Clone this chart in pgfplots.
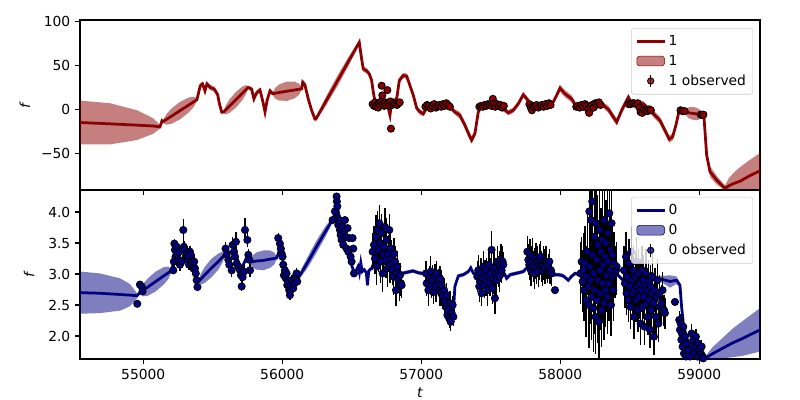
\documentclass[border=0pt]{standalone}
\usepackage{fontspec}
\setmainfont{DejaVu Sans}
\usepackage{pgfplots}
\pgfplotsset{compat=1.18}
\usepackage{pgfplotstable}
\definecolor{dred}{RGB}{139,0,0}
\definecolor{navyc}{RGB}{0,0,128}

\pgfplotstableread{
t f w
54545 -15 25
54761 -16.5 23.5
54955 -18 17
55070 -19 9
55100 -19.5 5
55120 -20 2
55135 -13 1.5
55142 -14 1.5
55166 -11.5 6
55203 -7.75 8.7
55264 -1.5 10
55325 4.75 8.7
55362 8.5 6
55386 11 1.5
55410 27 3
55427 29 3
55444 21 3
55458 29 3
55482 25 3
55511 23 3
55535 17 3
55547 7 3
55564 -3 3
55578 -3 1.5
55596 -0.2 5.4
55622 4 7.8
55667 11 9
55711 18 7.8
55737 22.2 5.4
55755 25 1.5
55780 23 3
55796 12 3
55816 19 3
55840 22 3
55859 10 3
55876 -3 3
55892 11 3
55912 21 3
55931 18 1.5
55952 18.5 6.6
55983 19.4 9.5
56036 20.8 11
56088 22.1 9.5
56119 23 6.6
56140 23.5 1.5
56147 31 3
56163 28 3
56187 12 3
56211 -1 3
56235 -11 3
56242 -11 1.5
56273 -2.3 3.6
56320 10.9 5.2
56398 32.75 6
56476 54.6 5.2
56523 67.75 3.6
56554 76.5 1.5
56571 57.6 3
56583 46 3
56607 44 3
56626 40.5 3
56643 33 3
56655 19.7 3
56667 9 3
56703 7.5 3
56739 9 3
56760 3 3
56775 -6.8 3
56787 8 3
56823 11.7 3
56842 33 3
56870 38.6 3
56895 38 3
56919 27 3
56943 16 3
56967 1.5 3
56991 -3 3
57015 -5 3
57034 0.4 3
57063 5.3 3
57135 3.8 3
57207 2.7 3
57242 -3 3
57278 -6.8 4
57314 -18 4
57345 -29.5 4
57362 -35 4
57386 -27.7 4
57410 -3 3
57434 3.8 3
57506 6.4 3
57530 9 3
57590 0.8 3
57626 -3.8 3
57662 -1 3
57698 6.4 3
57734 16.7 3
57770 10 3
57782 6.4 3
57806 0.8 3
57854 3.8 3
57938 5 3
57974 16 3
57998 24.2 4
58034 17.8 4
58082 12 4
58118 2.6 3
58178 4.5 3
58238 0.8 3
58298 6.4 3
58346 0 4
58382 -8.7 4
58406 -14.4 4
58442 -1 4
58490 14 3
58514 6.4 3
58597 6.4 3
58645 -1 3
58681 -6.8 4
58717 -12.5 4
58753 -24 4
58784 -34 4
58808 -31.5 4
58832 -18 4
58856 -1 3
58885 -2 3
58897 -3 1.5
58910 -3.4 4.5
58929 -4 6.5
58960 -4.7 7.5
58992 -5.5 6.5
59011 -6 4.5
59024 -6.4 1.5
59034 -9 3
59053 -52 5
59077 -71 6
59125 -80.7 5
59185 -90 3
59215 -87 9
59257 -84 13
59293 -82 16
59360 -76 18
59437 -70 20
}\topline

\pgfplotstableread{
t f e
56650 6 2
56660 4 2
56668 8 2
56675 3 2
56683 5 2
56690 2 2
56697 7 2
56705 5 2
56712 9 2
56715 27 2
56720 16 2
56725 6 2
56733 4 2
56740 8 2
56748 5 2
56756 22 2
56762 7 2
56770 4 2
56778 9 2
56782 -22 2
56790 5 2
56800 7 2
56812 6 2
56825 5 2
56838 7 2
56845 8 2
57030 3 2
57042 5 2
57055 4 2
57068 1 2
57080 4 2
57093 6 2
57105 2 2
57118 4 2
57130 5 2
57143 3 2
57156 6 2
57168 4 2
57180 7 2
57193 5 2
57206 3 2
57418 3 2
57430 4 2
57443 3 2
57455 5 2
57468 4 2
57480 6 2
57493 5 2
57505 4 2
57515 12 2
57520 6 2
57532 3 2
57545 6 2
57558 4 2
57570 5 2
57582 2 2
57594 4 2
57778 6 2
57788 2 2
57796 -1 2
57806 3 2
57818 4 2
57830 5 2
57842 2 2
57855 4 2
57867 5 2
57880 3 2
57893 6 2
57906 4 2
57918 7 2
57930 5 2
58115 3 2
58127 4 2
58140 2 2
58152 5 2
58165 3 2
58178 6 2
58190 4 2
58200 0 2
58208 -4 2
58215 3 2
58228 5 2
58240 2 2
58252 7 2
58265 6 2
58278 8 2
58290 5 2
58492 6 2
58505 6 2
58518 7 2
58532 7 2
58545 6 2
58558 7 2
58570 2 2
58578 -3 2
58590 -4 2
58602 0 2
58615 -1 2
58628 -2 2
58640 0 2
58652 -1 2
58865 -1 2
58880 -2 2
58895 -2 2
59010 -6 2
59022 -6.5 2
59030 -6 2
}\topobs

\pgfplotstableread{
t f w
54545 2.70 0.34
54689 2.69 0.32
54833 2.67 0.26
54904 2.66 0.18
54930 2.655 0.11
54955 2.65 0.04
54976 2.70 0.02
54999 2.74 0.10
55033 2.79 0.14
55090 2.88 0.16
55147 2.97 0.14
55181 3.02 0.10
55204 3.06 0.02
55230 3.30 0.03
55270 3.40 0.03
55310 3.32 0.03
55350 3.18 0.03
55380 2.95 0.03
55396 2.88 0.02
55415 2.92 0.09
55444 2.99 0.13
55492 3.10 0.15
55540 3.20 0.13
55569 3.27 0.09
55588 3.31 0.02
55620 3.35 0.03
55660 3.38 0.03
55700 3.05 0.03
55740 3.25 0.03
55768 3.19 0.02
55787 3.20 0.10
55816 3.21 0.14
55864 3.22 0.16
55912 3.24 0.14
55941 3.25 0.10
55960 3.26 0.02
55985 3.42 0.03
56010 3.15 0.03
56040 2.85 0.03
56060 2.72 0.03
56090 2.85 0.03
56115 2.93 0.02
56140 3.03 0.06
56178 3.17 0.087
56241 3.42 0.10
56304 3.66 0.087
56342 3.80 0.06
56367 3.90 0.02
56395 4.10 0.03
56430 3.70 0.03
56460 3.40 0.03
56490 3.20 0.03
56515 3.04 0.03
56530 3.05 0.03
56545 3.12 0.03
56555 3.02 0.03
56565 3.18 0.03
56575 3.04 0.03
56590 3.07 0.03
56605 3.02 0.03
56613 2.82 0.03
56622 3.05 0.03
56645 3.10 0.03
56700 3.40 0.03
56760 3.40 0.03
56820 3.05 0.03
56860 3.01 0.03
56900 3.03 0.03
56940 3.05 0.03
56980 3.02 0.03
57034 3.00 0.03
57100 2.85 0.03
57150 2.70 0.03
57200 2.45 0.03
57230 2.35 0.03
57242 2.80 0.03
57267 2.97 0.03
57303 2.99 0.03
57339 3.04 0.03
57356 3.10 0.03
57375 3.01 0.03
57400 3.00 0.03
57450 3.00 0.03
57500 3.05 0.03
57560 3.10 0.03
57600 3.00 0.03
57614 2.93 0.03
57640 2.99 0.03
57680 3.01 0.03
57734 3.04 0.03
57760 3.10 0.03
57850 3.18 0.03
57930 3.08 0.03
57950 2.99 0.03
57990 2.99 0.03
58022 2.97 0.03
58058 2.90 0.03
58080 2.96 0.03
58106 3.01 0.03
58142 2.99 0.03
58250 2.95 0.03
58350 3.00 0.03
58406 3.01 0.03
58429 2.95 0.03
58453 2.90 0.03
58550 2.88 0.03
58650 2.90 0.03
58693 2.93 0.03
58741 2.91 0.06
58790 2.88 0.10
58837 2.90 0.06
58861 2.82 0.03
58873 2.47 0.03
58885 2.21 0.03
58910 1.96 0.03
58934 1.85 0.03
58958 1.90 0.03
58994 1.75 0.03
59029 1.64 0.02
59041 1.64 0.02
59070 1.68 0.07
59100 1.72 0.11
59149 1.78 0.15
59240 1.89 0.23
59310 1.96 0.28
59437 2.10 0.35
}\botline

\pgfplotstableread{
t f e
54957 2.52 0.05
54976 2.83 0.05
54988 2.80 0.05
54995 2.72 0.05
55216 3.06 0.06
55220 3.20 0.08
55224 3.49 0.08
55228 3.39 0.10
55232 3.28 0.08
55240 3.44 0.10
55244 3.31 0.08
55252 3.23 0.10
55260 3.36 0.10
55264 3.15 0.10
55276 3.20 0.08
55288 3.71 0.17
55292 3.44 0.10
55300 3.39 0.10
55306 3.28 0.08
55312 3.33 0.10
55318 3.23 0.08
55324 3.28 0.10
55330 3.15 0.08
55336 3.36 0.10
55342 3.31 0.10
55348 3.20 0.08
55354 3.15 0.08
55360 3.09 0.08
55366 3.20 0.10
55372 3.09 0.10
55378 3.01 0.08
55384 2.90 0.06
55390 2.79 0.06
55592 3.41 0.10
55600 3.31 0.10
55612 3.23 0.10
55619 3.15 0.10
55636 3.06 0.10
55643 3.47 0.12
55653 3.36 0.10
55660 3.28 0.10
55667 3.52 0.15
55672 3.17 0.10
55684 3.12 0.10
55696 3.06 0.10
55703 2.98 0.10
55708 2.80 0.08
55715 2.95 0.10
55725 3.04 0.10
55732 3.71 0.20
55749 3.55 0.12
55756 3.31 0.10
55763 3.23 0.10
55768 3.06 0.10
55971 3.58 0.08
55983 3.49 0.08
55990 3.41 0.08
55995 3.33 0.08
56002 3.28 0.08
56007 3.15 0.08
56012 2.98 0.08
56019 3.06 0.08
56026 2.93 0.08
56031 3.01 0.08
56036 2.82 0.08
56043 2.88 0.08
56050 2.74 0.08
56055 2.66 0.08
56060 2.82 0.08
56067 2.90 0.08
56079 2.77 0.08
56086 2.85 0.08
56094 2.95 0.08
56103 3.01 0.08
56108 2.88 0.08
56362 3.87 0.05
56379 4.01 0.05
56391 4.25 0.05
56393 4.17 0.05
56396 4.09 0.05
56398 3.90 0.05
56403 3.79 0.05
56410 3.87 0.05
56415 3.71 0.05
56420 3.63 0.05
56427 3.55 0.05
56434 3.76 0.05
56439 3.47 0.05
56444 3.68 0.05
56451 3.87 0.05
56456 3.60 0.05
56463 3.41 0.05
56470 3.74 0.05
56475 3.36 0.05
56482 3.58 0.05
56492 3.28 0.05
56499 3.20 0.05
56506 3.58 0.05
56511 3.41 0.05
56516 3.01 0.05
56650 3.36 0.30
56660 3.47 0.30
56667 3.25 0.25
56674 3.60 0.35
56679 3.12 0.30
56686 3.71 0.30
56694 3.39 0.35
56698 3.82 0.30
56703 3.50 0.30
56708 3.20 0.35
56715 3.66 0.30
56722 3.01 0.30
56727 3.31 0.25
56732 3.44 0.30
56739 3.76 0.30
56746 3.23 0.30
56751 3.55 0.35
56756 3.09 0.30
56763 3.33 0.30
56770 3.71 0.25
56775 3.15 0.30
56780 3.41 0.30
56787 3.25 0.30
56794 3.07 0.25
56799 2.96 0.30
56804 3.33 0.25
56811 3.20 0.25
56818 2.74 0.25
56823 3.01 0.20
56828 3.12 0.25
56835 2.90 0.20
56842 2.82 0.25
56847 2.98 0.20
56854 2.85 0.20
56859 2.82 0.20
57034 3.01 0.20
57039 2.85 0.20
57051 2.74 0.25
57058 2.93 0.20
57068 3.04 0.25
57075 2.82 0.20
57082 2.90 0.25
57087 2.71 0.20
57099 2.96 0.20
57106 2.80 0.25
57111 3.01 0.20
57123 2.88 0.20
57130 2.74 0.25
57135 2.93 0.20
57142 2.69 0.20
57147 2.82 0.25
57154 2.64 0.20
57164 2.74 0.20
57171 2.55 0.20
57178 2.47 0.20
57183 2.66 0.20
57188 2.34 0.15
57195 2.42 0.20
57202 2.28 0.15
57207 2.53 0.20
57212 2.23 0.15
57219 2.37 0.15
57226 2.50 0.15
57231 2.31 0.15
57403 2.96 0.25
57410 3.06 0.25
57417 2.80 0.25
57422 2.88 0.20
57429 3.01 0.25
57434 2.69 0.20
57441 2.93 0.25
57446 3.12 0.25
57453 2.82 0.20
57458 2.98 0.25
57465 2.90 0.25
57470 3.06 0.20
57475 2.74 0.25
57482 2.96 0.25
57487 3.15 0.25
57494 2.85 0.20
57499 3.01 0.25
57506 3.39 0.30
57511 2.77 0.25
57518 2.93 0.25
57523 3.09 0.30
57530 2.61 0.25
57537 3.01 0.25
57542 2.90 0.25
57549 3.20 0.25
57554 3.04 0.25
57561 2.96 0.25
57566 3.12 0.25
57573 3.23 0.25
57578 3.06 0.20
57585 3.20 0.25
57590 3.15 0.20
57763 3.36 0.25
57770 3.23 0.25
57777 3.15 0.25
57782 3.31 0.25
57789 3.06 0.25
57794 3.20 0.25
57801 3.28 0.30
57806 3.12 0.25
57813 3.01 0.25
57818 3.17 0.25
57825 3.25 0.25
57830 3.09 0.25
57837 3.20 0.25
57842 3.04 0.25
57849 3.15 0.25
57854 3.23 0.25
57859 3.28 0.25
57866 3.12 0.25
57873 3.06 0.25
57878 3.20 0.25
57883 3.15 0.25
57890 3.09 0.25
57897 3.20 0.25
57902 3.17 0.25
57909 3.06 0.20
57914 3.12 0.20
57921 3.20 0.20
57926 3.04 0.20
57933 3.06 0.20
57938 3.01 0.20
57962 2.74 0.05
58146 3.01 0.50
58154 3.20 0.40
58161 2.88 0.50
58166 3.06 0.60
58170 2.74 0.50
58178 3.17 0.60
58185 2.58 0.60
58190 2.96 0.50
58194 3.36 0.70
58202 2.80 0.60
58206 2.50 0.70
58209 4.01 0.70
58214 3.12 0.60
58218 2.90 0.70
58221 3.87 0.80
58226 2.63 0.70
58230 4.17 0.80
58233 3.31 0.60
58238 2.45 0.70
58242 3.01 0.60
58245 3.60 0.80
58250 2.74 0.70
58254 2.31 0.60
58257 3.82 0.80
58262 3.23 0.70
58266 2.58 0.70
58269 3.47 0.80
58274 2.90 0.70
58278 2.23 0.60
58281 3.71 0.80
58286 3.06 0.70
58290 2.69 0.60
58293 3.36 0.70
58298 2.42 0.60
58302 3.55 0.80
58305 2.85 0.60
58310 3.15 0.70
58314 2.53 0.60
58317 3.87 0.80
58321 3.28 0.70
58326 2.74 0.60
58329 3.50 0.70
58333 2.98 0.60
58338 2.63 0.60
58341 3.66 0.70
58345 3.20 0.60
58350 2.85 0.60
58353 3.98 0.70
58357 3.06 0.60
58362 3.39 0.60
58365 2.50 0.50
58369 3.82 0.60
58374 2.96 0.50
58377 3.31 0.50
58381 2.74 0.50
58386 3.17 0.50
58393 3.01 0.40
58401 3.06 0.40
58405 3.12 0.40
58458 3.06 0.40
58465 2.85 0.40
58473 3.28 0.40
58477 2.69 0.35
58482 2.96 0.40
58489 2.58 0.35
58494 3.17 0.40
58501 2.80 0.35
58506 2.47 0.35
58511 3.36 0.40
58516 2.90 0.40
58521 2.69 0.35
58525 3.06 0.40
58530 2.31 0.35
58535 2.74 0.35
58540 2.96 0.40
58545 2.58 0.35
58549 3.20 0.40
58554 2.80 0.35
58559 2.42 0.35
58564 3.01 0.40
58568 2.63 0.35
58573 2.85 0.40
58578 2.20 0.35
58583 2.74 0.35
58588 3.06 0.40
58592 2.47 0.35
58597 2.90 0.40
58602 2.63 0.35
58607 2.15 0.30
58612 2.80 0.35
58616 3.01 0.40
58621 2.53 0.35
58626 2.74 0.35
58631 2.31 0.30
58636 2.88 0.35
58640 2.58 0.35
58645 2.10 0.30
58650 2.80 0.35
58655 2.42 0.30
58660 2.69 0.35
58664 2.96 0.40
58669 2.53 0.30
58674 1.99 0.30
58681 2.74 0.35
58688 2.31 0.30
58693 2.63 0.30
58698 2.90 0.35
58705 2.20 0.30
58712 2.69 0.30
58717 2.47 0.30
58729 2.53 0.30
58736 2.74 0.30
58746 2.42 0.25
58753 2.37 0.25
58825 2.55 0.05
58856 2.26 0.15
58861 2.10 0.15
58866 2.20 0.15
58871 1.94 0.12
58875 2.04 0.15
58880 1.83 0.12
58885 2.15 0.15
58890 1.72 0.12
58897 1.99 0.15
58904 1.67 0.12
58909 1.88 0.12
58921 1.77 0.12
58933 1.67 0.10
58945 2.04 0.15
58952 1.83 0.12
58957 1.94 0.12
58964 1.72 0.12
58969 1.61 0.10
58976 1.99 0.12
58981 1.83 0.12
58988 1.67 0.10
58993 1.88 0.12
59000 1.77 0.10
59005 1.61 0.10
59012 1.72 0.10
59017 1.83 0.10
59024 1.67 0.10
59029 1.64 0.10
}\botobs

\pgfplotsset{
  common/.style={
    scale only axis,
    width=491.44pt,
    xmin=54545, xmax=59437,
    axis line style={line width=0.8pt},
    every tick/.style={black, line width=0.8pt},
    tick align=outside,
    major tick length=3.5pt,
    xtick pos=left, ytick pos=left,
    xtick={55000,56000,57000,58000,59000},
    scaled x ticks=false, scaled y ticks=false,
    tick label style={font=\fontsize{10}{12}\selectfont},
    legend cell align=left,
    legend style={anchor=north east, draw=black!20, rounded corners=2pt,
      fill=white, fill opacity=0.8, text opacity=1,
      font=\fontsize{10}{12}\selectfont, row sep=1.5pt,
      inner xsep=3pt, inner ysep=3pt},
  },
}

\begin{document}
\begin{tikzpicture}
\useasboundingbox (0,0) rectangle (578.16pt,289.08pt);

% ---------------- top panel ----------------
\begin{axis}[common,
  at={(57.82pt,151.77pt)}, anchor=south west,
  height=122.86pt,
  ymin=-92, ymax=102,
  xticklabels={},
  ytick={-50,0,50,100},
  yticklabels={−50,0,50,100},
  ylabel={\textit{f}},
  ylabel style={at={(axis description cs:-0.081,0.5)}, anchor=center},
  legend style={at={(0.99,0.953)}},
]
\addplot[draw=none, stack plots=y, forget plot] table[x=t, y expr=\thisrow{f}-\thisrow{w}] {\topline};
\addplot[fill=dred, fill opacity=0.5, draw=none, stack plots=y, forget plot] table[x=t, y expr=2*\thisrow{w}] {\topline} \closedcycle;
\addplot[dred, line width=2pt, forget plot] table[x=t, y=f] {\topline};
\addplot[forget plot, only marks, mark=*, mark size=2.6pt,
  mark options={fill=dred, draw=black, line width=0.6pt},
  error bars/.cd, y dir=both, y explicit, error mark=none,
  error bar style={black, line width=1pt}] table[x=t, y=f, y error=e] {\topobs};
\addlegendimage{legend image code/.code={\draw[dred, line width=2pt] (0pt,0pt) -- (20pt,0pt);}}
\addlegendentry{1}
\addlegendimage{legend image code/.code={\fill[dred, fill opacity=0.5] (0pt,-3.5pt) rectangle (20pt,3.5pt);}}
\addlegendentry{1}
\addlegendimage{legend image code/.code={\draw[black, line width=1pt] (10pt,-4.5pt) -- (10pt,4.5pt); \filldraw[fill=dred, draw=black, line width=0.6pt] (10pt,0pt) circle (2.3pt);}}
\addlegendentry{1 observed}
\end{axis}

% ---------------- bottom panel ----------------
\begin{axis}[common,
  at={(57.82pt,29.63pt)}, anchor=south west,
  height=122.14pt,
  ymin=1.63, ymax=4.355,
  xticklabels={55000,56000,57000,58000,59000},
  ytick={2.0,2.5,3.0,3.5,4.0},
  yticklabels={2.0,2.5,3.0,3.5,4.0},
  ylabel={\textit{f}},
  ylabel style={at={(axis description cs:-0.075,0.5)}, anchor=center},
  xlabel={\textit{t}},
  xlabel style={at={(axis description cs:0.5,-0.2)}, anchor=center},
  legend style={at={(0.99,0.959)}},
]
\addplot[draw=none, stack plots=y, forget plot] table[x=t, y expr=\thisrow{f}-\thisrow{w}] {\botline};
\addplot[fill=navyc, fill opacity=0.5, draw=none, stack plots=y, forget plot] table[x=t, y expr=2*\thisrow{w}] {\botline} \closedcycle;
\addplot[navyc, line width=2pt, forget plot] table[x=t, y=f] {\botline};
\addplot[forget plot, only marks, mark=*, mark size=2.6pt,
  mark options={fill=navyc, draw=black, line width=0.6pt},
  error bars/.cd, y dir=both, y explicit, error mark=none,
  error bar style={black, line width=1pt}] table[x=t, y=f, y error=e] {\botobs};
\addlegendimage{legend image code/.code={\draw[navyc, line width=2pt] (0pt,0pt) -- (20pt,0pt);}}
\addlegendentry{0}
\addlegendimage{legend image code/.code={\fill[navyc, fill opacity=0.5] (0pt,-3.5pt) rectangle (20pt,3.5pt);}}
\addlegendentry{0}
\addlegendimage{legend image code/.code={\draw[black, line width=1pt] (10pt,-4.5pt) -- (10pt,4.5pt); \filldraw[fill=navyc, draw=black, line width=0.6pt] (10pt,0pt) circle (2.3pt);}}
\addlegendentry{0 observed}
\end{axis}
\end{tikzpicture}
\end{document}
